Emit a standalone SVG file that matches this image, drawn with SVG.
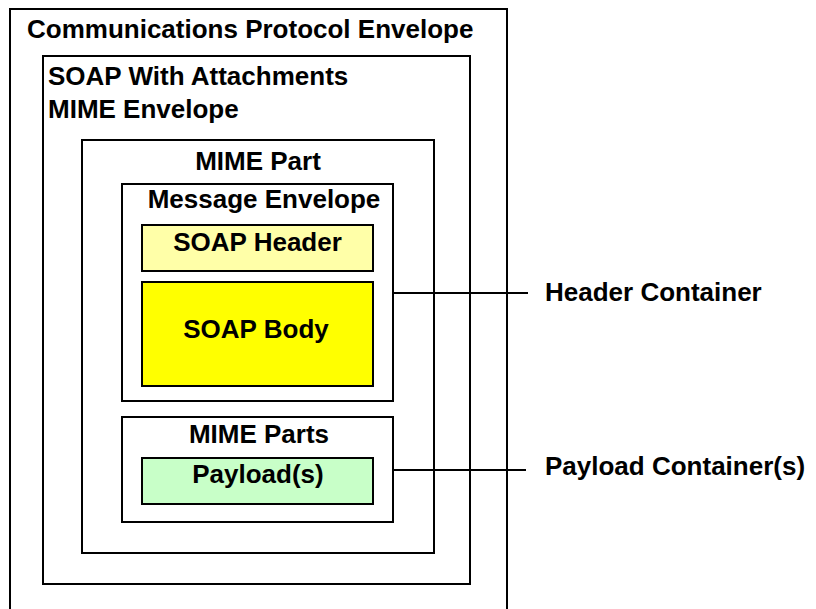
<svg xmlns="http://www.w3.org/2000/svg" width="816" height="609" viewBox="0 0 816 609">
<style>
.box{fill:#fff;stroke:#000;stroke-width:2}
.t{font-family:"Liberation Sans",Arial,sans-serif;font-weight:bold;font-size:26px;fill:#000}
.m{text-anchor:middle}
.conn{stroke:#000;stroke-width:2;fill:none}
</style>
<rect width="816" height="609" fill="#fff"/>
<g id="comm-envelope">
<path class="box" d="M10,612 V9 H507 V612"/>
<text class="t" x="27" y="38">Communications Protocol Envelope</text>
</g>
<g id="swa-envelope">
<rect class="box" x="43" y="56" width="427" height="528"/>
<text class="t" x="48" y="85">SOAP With Attachments</text>
<text class="t" x="48" y="118">MIME Envelope</text>
</g>
<g id="mime-part">
<rect class="box" x="82" y="140" width="352" height="413"/>
<text class="t m" x="258" y="170">MIME Part</text>
</g>
<g id="message-envelope">
<rect class="box" x="122" y="184" width="271" height="217"/>
<text class="t m" x="264" y="208">Message Envelope</text>
</g>
<g id="soap-header">
<rect class="box" x="142" y="225" width="231" height="46" fill="#FFFFA8" style="fill:#FFFFA8"/>
<text class="t m" x="257.5" y="251">SOAP Header</text>
</g>
<g id="soap-body">
<rect class="box" x="142" y="282" width="231" height="104" style="fill:#FFFF00"/>
<text class="t m" x="256" y="338">SOAP Body</text>
</g>
<g id="mime-parts">
<rect class="box" x="122" y="417" width="271" height="105"/>
<text class="t m" x="259" y="443">MIME Parts</text>
</g>
<g id="payloads">
<rect class="box" x="142" y="458" width="231" height="46" style="fill:#C8FFC8"/>
<text class="t m" x="258" y="483">Payload(s)</text>
</g>
<g id="connectors">
<line class="conn" x1="393" y1="293" x2="528" y2="293"/>
<line class="conn" x1="393" y1="470" x2="526" y2="470"/>
</g>
<g id="labels">
<text class="t" x="545" y="301">Header Container</text>
<text class="t" x="545" y="475">Payload Container(s)</text>
</g>
</svg>
